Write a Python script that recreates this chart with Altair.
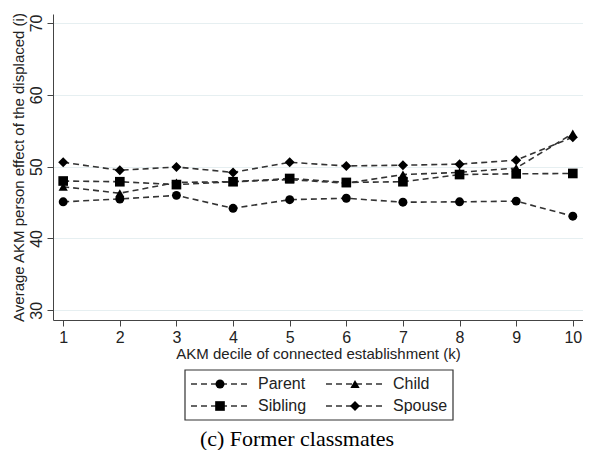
import altair as alt
import pandas as pd

deciles = [1, 2, 3, 4, 5, 6, 7, 8, 9, 10]
series_names = ["Parent", "Child", "Sibling", "Spouse"]
parent = [45.1, 45.5, 46.0, 44.2, 45.4, 45.6, 45.05, 45.1, 45.2, 43.1]
child = [47.2, 46.3, 47.8, 47.9, 48.2, 47.7, 48.9, 49.2, 49.8, 54.6]
sibling = [48.0, 47.9, 47.5, 47.9, 48.35, 47.8, 47.9, 48.9, 49.0, 49.05]
spouse = [50.6, 49.5, 49.95, 49.2, 50.6, 50.1, 50.2, 50.35, 50.9, 54.1]
y_ticks = [30, 40, 50, 60, 70]

shapes = ["circle", "triangle-up", "square", "diamond"]
sizes = [80, 100, 64, 150]

rows = []
for name, vals in zip(series_names, [parent, child, sibling, spouse]):
    for d, v in zip(deciles, vals):
        rows.append({"decile": d, "value": v, "series": name})
df = pd.DataFrame(rows)

FONT = "Liberation Sans"
AX = "#444444"
W = 530

x_enc = alt.X("decile:Q", scale=alt.Scale(domain=[0.82, 10.18], nice=False, zero=False),
              axis=alt.Axis(values=deciles, format="d", title="AKM decile of connected establishment (k)",
                            grid=False, tickSize=6, labelPadding=3, titlePadding=1,
                            domainColor=AX, tickColor=AX, labelColor="#222", titleColor="#222",
                            labelFont=FONT, titleFont=FONT, labelFontSize=16, titleFontSize=15,
                            titleFontWeight="normal"))
y_enc = alt.Y("value:Q", scale=alt.Scale(domain=[28.65, 71.25], nice=False, zero=False),
              axis=alt.Axis(values=y_ticks, title="Average AKM person effect of the displaced (i)",
                            grid=True, gridColor="#e6eff1", gridWidth=1.2, tickSize=6,
                            labelAngle=270, labelPadding=3, titlePadding=2,
                            domainColor=AX, tickColor=AX, labelColor="#222", titleColor="#222",
                            labelFont=FONT, titleFont=FONT, labelFontSize=16, titleFontSize=15,
                            titleFontWeight="normal"))

base = alt.Chart(df)
lines = base.mark_line(strokeDash=[6, 4], strokeWidth=1.6, color="#333333").encode(
    x=x_enc, y=y_enc, detail="series:N")
points = base.mark_point(filled=True, opacity=1, color="black").encode(
    x="decile:Q", y="value:Q",
    shape=alt.Shape("series:N", scale=alt.Scale(domain=series_names, range=shapes), legend=None),
    size=alt.Size("series:N", scale=alt.Scale(domain=series_names, range=sizes), legend=None))

main = alt.layer(lines, points).properties(width=W, height=306)

# Legend drawn as its own small panel
leg_col = [0, 1, 0, 1]
leg_row = [0, 0, 1, 1]
leg = pd.DataFrame({"series": series_names, "col": leg_col, "row": leg_row})
leg["x0"] = 138 + leg["col"] * 135
leg["x1"] = leg["x0"] + 58
leg["xm"] = leg["x0"] + 29
leg["xt"] = leg["x0"] + 67
leg["y"] = 14 + leg["row"] * 22
box = pd.DataFrame({"bx0": [132], "bx1": [400], "by0": [0], "by1": [50]})

lx = alt.Scale(domain=[0, W], nice=False, zero=False)
ly = alt.Scale(domain=[0, 50], nice=False, zero=False, reverse=True)

leg_box = alt.Chart(box).mark_rect(fill="white", stroke="#333333", strokeWidth=1.2).encode(
    x=alt.X("bx0:Q", scale=lx, axis=None), x2="bx1:Q",
    y=alt.Y("by0:Q", scale=ly, axis=None), y2="by1:Q")
leg_line = alt.Chart(leg).mark_rule(strokeDash=[6, 4], strokeWidth=1.6, color="#333333").encode(
    x=alt.X("x0:Q", scale=lx, axis=None), x2="x1:Q",
    y=alt.Y("y:Q", scale=ly, axis=None))
leg_pt = alt.Chart(leg).mark_point(filled=True, opacity=1, color="black").encode(
    x=alt.X("xm:Q", scale=lx, axis=None), y=alt.Y("y:Q", scale=ly, axis=None),
    shape=alt.Shape("series:N", scale=alt.Scale(domain=series_names, range=shapes), legend=None),
    size=alt.Size("series:N", scale=alt.Scale(domain=series_names, range=sizes), legend=None))
leg_txt = alt.Chart(leg).mark_text(align="left", baseline="middle", font=FONT, fontSize=16,
                                   color="#222").encode(
    x=alt.X("xt:Q", scale=lx, axis=None), y=alt.Y("y:Q", scale=ly, axis=None), text="series:N")

legend_panel = alt.layer(leg_box, leg_line, leg_pt, leg_txt).properties(width=W, height=50)

chart = alt.vconcat(main, legend_panel, spacing=8).resolve_scale(
    shape="independent", size="independent").properties(
    title=alt.TitleParams("(c) Former classmates", orient="bottom", anchor="middle",
                          font="Liberation Serif", fontSize=22, fontWeight="normal",
                          color="black", offset=8),
    padding={"left": 3, "top": 4, "right": 0, "bottom": 0},
    background="white",
).configure_view(stroke="transparent", strokeWidth=0)

chart.save("out.html", embed_options={"renderer": "svg", "actions": False})
